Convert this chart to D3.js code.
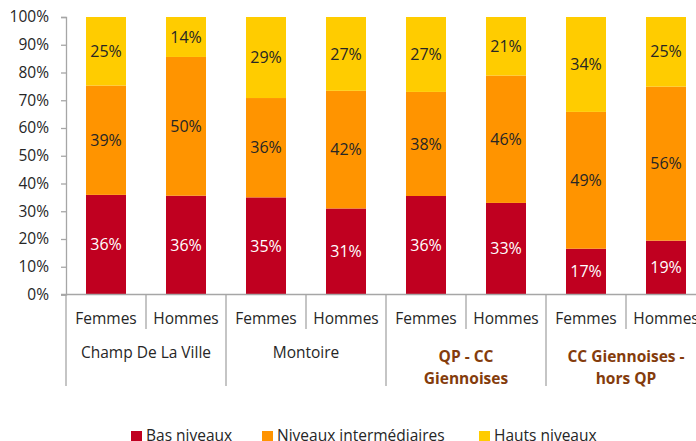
<!DOCTYPE html>
<html>
<head>
<meta charset="utf-8">
<script src="https://cdn.jsdelivr.net/npm/d3@7"></script>
<style>
  body { margin: 0; background: #fff; }
  svg { display: block; font-family: "Open Sans", sans-serif; }
</style>
</head>
<body>
<svg id="chart" width="696" height="441"></svg>
<script>
// chart data
const groups = ["Champ De La Ville", "Montoire", "QP - CC\nGiennoises", "CC Giennoises -\nhors QP"];
const sexes = ["Femmes", "Hommes"];
const series = ["Bas niveaux", "Niveaux intermédiaires", "Hauts niveaux"];
const colors = ["#C00020", "#FF9400", "#FFCC00"];
const labelColors = ["#ffffff", "#262626", "#262626"];
// values per bar, in order Champ F, Champ H, Montoire F, Montoire H, QP F, QP H, CC F, CC H
const basNiveaux = [35.9, 35.6, 35.0, 31.0, 35.5, 33.0, 16.5, 19.4];
const niveauxInter = [39.4, 50.0, 35.8, 42.4, 37.5, 45.9, 49.3, 55.5];
const hautsNiveaux = [24.7, 14.4, 29.2, 26.6, 27.0, 21.1, 34.2, 25.1];
const yTicks = [0, 10, 20, 30, 40, 50, 60, 70, 80, 90, 100];

const svg = d3.select("#chart");
const plotLeft = 66, plotRight = 706, plotTop = 17, plotBottom = 294.5;
const axisColor = "#a6a6a6";
const fs = 15.5;

// build rows
const bars = [];
groups.forEach((g, gi) => {
    sexes.forEach((s, si) => {
        const i = gi * 2 + si;
        bars.push({ key: i, group: g, sex: s, values: [basNiveaux[i], niveauxInter[i], hautsNiveaux[i]] });
    });
});

const x = d3.scaleBand().domain(bars.map(d => d.key)).range([plotLeft, plotRight]).paddingInner(0.5).paddingOuter(0.25);
const y = d3.scaleLinear().domain([0, 100]).range([plotBottom, plotTop]);

// stacked bars
const stackData = bars.map(d => ({ key: d.key, s0: d.values[0], s1: d.values[1], s2: d.values[2] }));
const stacked = d3.stack().keys(["s0", "s1", "s2"])(stackData);

stacked.forEach((layer, li) => {
    const g = svg.append("g");
    g.selectAll("rect").data(layer).join("rect")
        .attr("x", d => x(d.data.key))
        .attr("width", x.bandwidth())
        .attr("y", d => y(d[1]))
        .attr("height", d => y(d[0]) - y(d[1]))
        .attr("fill", colors[li]);
    g.selectAll("text").data(layer).join("text")
        .attr("x", d => x(d.data.key) + x.bandwidth() / 2)
        .attr("y", d => (y(d[0]) + y(d[1])) / 2)
        .attr("dy", "0.35em")
        .attr("text-anchor", "middle")
        .attr("font-size", 16)
        .attr("fill", labelColors[li])
        .text(d => Math.round(d[1] - d[0]) + "%");
});

// y axis
const yAxis = svg.append("g")
    .attr("transform", `translate(${plotLeft},0)`)
    .call(d3.axisLeft(y).tickValues(yTicks).tickFormat(d => d + "%").tickSize(5).tickPadding(12));
yAxis.select(".domain").attr("stroke", axisColor).attr("stroke-width", 1.3);
yAxis.selectAll(".tick line").attr("stroke", axisColor).attr("stroke-width", 1.3);
yAxis.selectAll(".tick text").attr("font-size", fs).attr("fill", "#262626").attr("font-family", "Open Sans");

// x axis line
svg.append("line")
    .attr("x1", plotLeft - 5).attr("x2", 696)
    .attr("y1", plotBottom).attr("y2", plotBottom)
    .attr("stroke", axisColor).attr("stroke-width", 1.3);

// separators
const step = x.step();
d3.range(0, 9).forEach(i => {
    const xx = plotLeft + i * step;
    const major = i % 2 === 0;
    svg.append("line")
        .attr("x1", xx).attr("x2", xx)
        .attr("y1", plotBottom).attr("y2", major ? 386 : 329)
        .attr("stroke", axisColor).attr("stroke-width", 1.3);
});

// sex labels
svg.append("g").selectAll("text").data(bars).join("text")
    .attr("x", d => x(d.key) + x.bandwidth() / 2)
    .attr("y", 324)
    .attr("text-anchor", "middle")
    .attr("font-size", fs)
    .attr("fill", "#262626")
    .text(d => d.sex);

// group labels
groups.forEach((g, gi) => {
    const cx = plotLeft + gi * 2 * step + step;
    const lines = g.split("\n");
    const bold = gi >= 2;
    const t = svg.append("text")
        .attr("text-anchor", "middle")
        .attr("font-size", fs)
        .attr("font-weight", bold ? "bold" : "normal")
        .attr("fill", bold ? "#843C0C" : "#262626");
    const y0 = lines.length > 1 ? 362 : 358;
    lines.forEach((l, li) => {
        t.append("tspan").attr("x", cx).attr("y", y0 + li * 22).text(l);
    });
});

// legend
const legendX = [131, 262, 479];
const legend = svg.append("g");
series.forEach((s, i) => {
    legend.append("rect")
        .attr("x", legendX[i]).attr("y", 431)
        .attr("width", 11).attr("height", 10)
        .attr("fill", colors[i]);
    legend.append("text")
        .attr("x", legendX[i] + 15).attr("y", 441)
        .attr("font-size", fs)
        .attr("fill", "#262626")
        .text(s);
});
</script>
</body>
</html>
